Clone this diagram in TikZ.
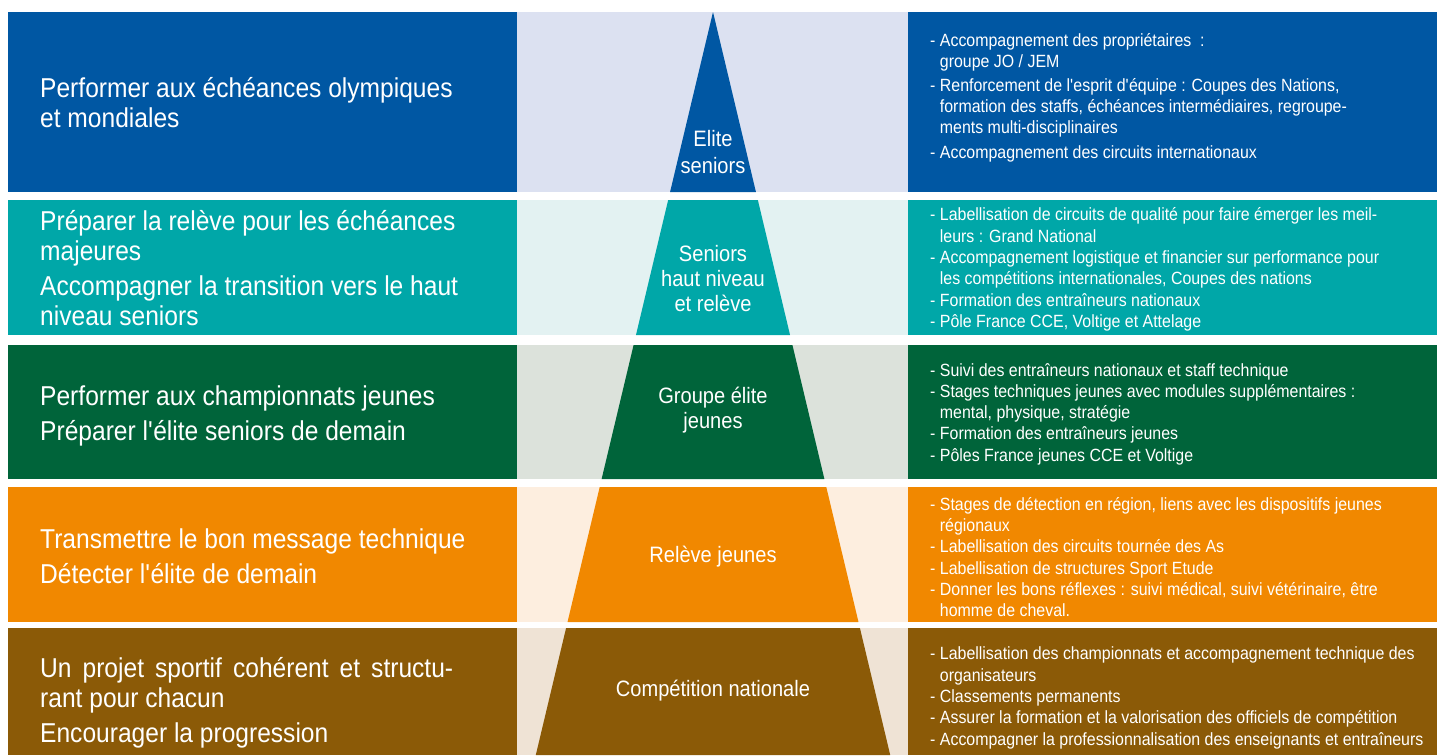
\documentclass[tikz,border=0pt]{standalone}
\usepackage{fontspec}
\setmainfont[FakeStretch=0.9]{Liberation Sans}
\definecolor{eliteblue}{RGB}{0,87,163}
\definecolor{elitelight}{RGB}{220,225,241}
\definecolor{seniorteal}{RGB}{0,167,168}
\definecolor{seniorlight}{RGB}{227,242,242}
\definecolor{jeunegreen}{RGB}{0,100,58}
\definecolor{jeunelight}{RGB}{220,226,219}
\definecolor{releveorange}{RGB}{241,136,0}
\definecolor{relevelight}{RGB}{253,238,223}
\definecolor{natbrown}{RGB}{139,90,7}
\definecolor{natlight}{RGB}{239,227,213}

\begin{document}
\begin{tikzpicture}[x=1pt, y=-1pt,
    lefttext/.style={anchor=west, text=white, inner sep=0pt, align=left,
      font=\fontsize{27.3}{30}\selectfont},
    midtext/.style={text=white, inner sep=0pt, align=center,
      font=\fontsize{22.3}{25}\selectfont},
    righttext/.style={anchor=west, text=white, inner sep=0pt, align=left,
      font=\fontsize{17.7}{21.3}\selectfont}]
  \useasboundingbox (0,0) rectangle (1437,755);
  % bands of the pyramid
  \foreach \ytop/\ybot/\dark/\light in {12/192/eliteblue/elitelight,
      200/335/seniorteal/seniorlight, 345/479/jeunegreen/jeunelight,
      487/622/releveorange/relevelight, 628/755/natbrown/natlight}{
    \fill[\dark] (8,\ytop) rectangle (517,\ybot);
    \fill[\light] (517,\ytop) rectangle (908,\ybot);
    \fill[\dark] (908,\ytop) rectangle (1437,\ybot);
    \fill[\dark] ({713-0.2385*(\ytop-12)},\ytop) -- ({713+0.2385*(\ytop-12)},\ytop)
      -- ({713+0.2385*(\ybot-12)},\ybot) -- ({713-0.2385*(\ybot-12)},\ybot) -- cycle;
  }

  % objectives
  \node[lefttext] (obj1) at (40,103) {Performer aux échéances olympiques\\et mondiales};
  \node[lefttext] (obj2) at (40,268) {Préparer la relève pour les échéances\\majeures\\[5pt]
    Accompagner la transition vers le haut\\niveau seniors};
  \node[lefttext] (obj3) at (40,416) {Performer aux championnats jeunes\\[5pt]
    Préparer l\textquotesingle élite seniors de demain};
  \node[lefttext] (obj4) at (40,556) {Transmettre le bon message technique\\[5pt]
    Détecter l\textquotesingle élite de demain};
  \node[lefttext] (obj5) at (40,703) {\makebox[413pt][s]{Un projet sportif cohérent et structu-}\\
    rant pour chacun\\[5pt]Encourager la progression};

  % levels
  \node[midtext] (lvl1) at (713,152) {Elite\\[2pt]seniors};
  \node[midtext] (lvl2) at (713,279) {Seniors\\haut niveau\\et relève};
  \node[midtext] (lvl3) at (713,410) {Groupe élite\\jeunes};
  \node[midtext] (lvl4) at (713,557) {Relève jeunes};
  \node[midtext] (lvl5) at (713,691) {Compétition nationale};

  % actions
  \node[righttext] (act1) at (930,98) {- Accompagnement des propriétaires\ \ :\\
    \phantom{- }groupe JO / JEM\\[2pt]
    - Renforcement de l\textquotesingle esprit d\textquotesingle équipe : Coupes des Nations,\\
    \phantom{- }formation des staffs, échéances intermédiaires, regroupe-\\
    \phantom{- }ments multi-disciplinaires\\[4pt]
    - Accompagnement des circuits internationaux};
  \node[righttext] (act2) at (930,269.5) {- Labellisation de circuits de qualité pour faire émerger les meil-\\
    \phantom{- }leurs : Grand National\\
    - Accompagnement logistique et financier sur performance pour\\
    \phantom{- }les compétitions internationales, Coupes des nations\\
    - Formation des entraîneurs nationaux\\
    - Pôle France CCE, Voltige et Attelage};
  \node[righttext] (act3) at (930,414) {- Suivi des entraîneurs nationaux et staff technique\\
    - Stages techniques jeunes avec modules supplémentaires :\\
    \phantom{- }mental, physique, stratégie\\
    - Formation des entraîneurs jeunes\\
    - Pôles France jeunes CCE et Voltige};
  \node[righttext] (act4) at (930,557) {- Stages de détection en région, liens avec les dispositifs jeunes\\
    \phantom{- }régionaux\\
    - Labellisation des circuits tournée des As\\
    - Labellisation de structures Sport Etude\\
    - Donner les bons réflexes : suivi médical, suivi vétérinaire, être\\
    \phantom{- }homme de cheval.};
  \node[righttext] (act5) at (930,698) {- Labellisation des championnats et accompagnement technique des\\
    \phantom{- }organisateurs\\
    - Classements permanents\\
    - Assurer la formation et la valorisation des officiels de compétition\\
    - Accompagner la professionnalisation des enseignants et entraîneurs};
\end{tikzpicture}
\end{document}
